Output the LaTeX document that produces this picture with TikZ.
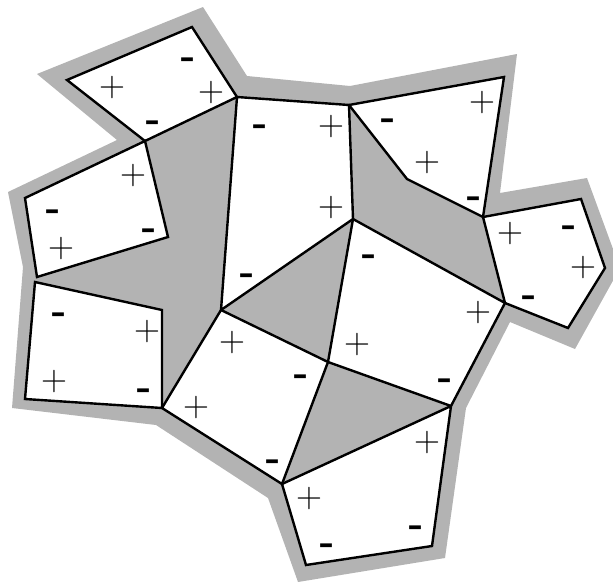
\documentclass[tikz,border=0pt]{standalone}
\usepackage{fontspec}
\newfontfamily\minusfont{Liberation Sans}
\definecolor{bandgray}{RGB}{179,179,179}
\tikzset{
  cell/.style={fill=white,draw=black,line width=2.4pt,line join=miter},
  plussign/.style={inner sep=0pt,font=\fontsize{36}{36}\selectfont},
  minussign/.style={inner sep=0pt,anchor=base,yshift=-11.8pt,font=\minusfont\fontsize{48}{48}\selectfont}
}
\begin{document}
\begin{tikzpicture}[x=1pt,y=-1pt]
\useasboundingbox (0,0) rectangle (613,584);
\clip (0,0) rectangle (613,584);
% outer gray band
\fill[bandgray] (37,74) -- (203,7) -- (247,76) -- (350,86) -- (517,54) -- (500,193)
  -- (587,178) -- (620,268) -- (575,349) -- (510,322) -- (466,408) -- (445,558)
  -- (298,582) -- (268,498) -- (156,425) -- (12,408) -- (23,267) -- (8,192) -- (117,140) -- cycle;
% cells
\draw[cell] (67,80) -- (192,27) -- (237,97) -- (145,141) -- cycle;
\draw[cell] (145,141) -- (25,198) -- (37,277) -- (168,237) -- cycle;
\draw[cell] (237,97) -- (349,105) -- (353,219) -- (221,310) -- cycle;
\draw[cell] (349,105) -- (504,77) -- (483,217) -- (407,179) -- cycle;
\draw[cell] (483,217) -- (581,199) -- (605,268) -- (568,328) -- (505,303) -- cycle;
\draw[cell] (353,219) -- (505,303) -- (451,406) -- (328,362) -- cycle;
\draw[cell] (221,310) -- (328,362) -- (282,484) -- (162,408) -- cycle;
\draw[cell] (282,484) -- (451,406) -- (432,546) -- (306,565) -- cycle;
\draw[cell] (35,282) -- (162,310) -- (162,408) -- (25,399) -- cycle;
% signs
\node[minussign] (a1) at (187,61) {-};
\node[plussign]  (a2) at (112,88) {+};
\node[plussign]  (a3) at (211,93) {+};
\node[minussign] (a4) at (152,124) {-};
\node[plussign]  (b1) at (133,176) {+};
\node[minussign] (b2) at (52,213) {-};
\node[plussign]  (b3) at (61,249) {+};
\node[minussign] (b4) at (148,232) {-};
\node[minussign] (c1) at (259,128) {-};
\node[plussign]  (c2) at (331,127) {+};
\node[plussign]  (c3) at (331,208) {+};
\node[minussign] (c4) at (246,277) {-};
\node[minussign] (d1) at (387,122) {-};
\node[plussign]  (d2) at (482,103) {+};
\node[plussign]  (d3) at (427,163) {+};
\node[minussign] (d4) at (473,200) {-};
\node[plussign]  (e1) at (510,234) {+};
\node[minussign] (e2) at (568,229) {-};
\node[plussign]  (e3) at (583,268) {+};
\node[minussign] (e4) at (528,299) {-};
\node[minussign] (f1) at (368,258) {-};
\node[plussign]  (f2) at (478,313) {+};
\node[plussign]  (f3) at (357,345) {+};
\node[minussign] (f4) at (444,382) {-};
\node[plussign]  (g1) at (232,343) {+};
\node[minussign] (g2) at (300,378) {-};
\node[plussign]  (g3) at (196,408) {+};
\node[minussign] (g4) at (272,463) {-};
\node[plussign]  (h1) at (427,443) {+};
\node[plussign]  (h2) at (309,499) {+};
\node[minussign] (h3) at (415,529) {-};
\node[minussign] (h4) at (326,547) {-};
\node[minussign] (i1) at (58,316) {-};
\node[plussign]  (i2) at (147,332) {+};
\node[plussign]  (i3) at (54,382) {+};
\node[minussign] (i4) at (143,392) {-};
\end{tikzpicture}
\end{document}
